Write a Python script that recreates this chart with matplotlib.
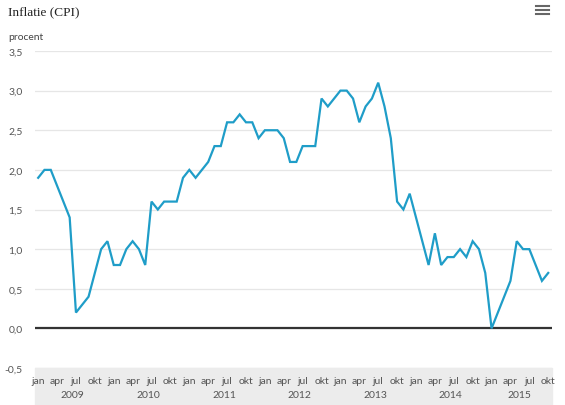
import matplotlib
matplotlib.use("Agg")
import matplotlib.pyplot as plt
import numpy as np
from matplotlib.patches import Rectangle
from matplotlib.lines import Line2D

# CPI, jaar-op-jaar mutatie, jan 2009 t/m okt 2015
cpi_2009 = [1.9, 2.0, 2.0, 1.8, 1.6, 1.4, 0.2, 0.3, 0.4, 0.7, 1.0, 1.1]
cpi_2010 = [0.8, 0.8, 1.0, 1.1, 1.0, 0.8, 1.6, 1.5, 1.6, 1.6, 1.6, 1.9]
cpi_2011 = [2.0, 1.9, 2.0, 2.1, 2.3, 2.3, 2.6, 2.6, 2.7, 2.6, 2.6, 2.4]
cpi_2012 = [2.5, 2.5, 2.5, 2.4, 2.1, 2.1, 2.3, 2.3, 2.3, 2.9, 2.8, 2.9]
cpi_2013 = [3.0, 3.0, 2.9, 2.6, 2.8, 2.9, 3.1, 2.8, 2.4, 1.6, 1.5, 1.7]
cpi_2014 = [1.4, 1.1, 0.8, 1.2, 0.8, 0.9, 0.9, 1.0, 0.9, 1.1, 1.0, 0.7]
cpi_2015 = [0.0, 0.2, 0.4, 0.6, 1.1, 1.0, 1.0, 0.8, 0.6, 0.7]

years = ["2009", "2010", "2011", "2012", "2013", "2014", "2015"]
month_labels = ["jan", "apr", "jul", "okt"]
y_ticks = [-0.5, 0.0, 0.5, 1.0, 1.5, 2.0, 2.5, 3.0, 3.5]

series = [cpi_2009, cpi_2010, cpi_2011, cpi_2012, cpi_2013, cpi_2014, cpi_2015]
values = np.concatenate(series)
x = np.arange(len(values))

fig = plt.figure(figsize=(5.65, 4.06), dpi=100)
ax = fig.add_axes([0.062, 0.091, 0.915, 0.781])

ax.plot(x, values, color="#1f9dc8", linewidth=1.6, solid_joinstyle="miter", zorder=3)
ax.axhline(0, color="#333333", linewidth=1.6, zorder=2)

ax.set_xlim(-0.5, 81.6)
ax.set_ylim(-0.5, 3.5)
ax.set_yticks(y_ticks)
ax.set_yticklabels([f"{v:.1f}".replace(".", ",") for v in y_ticks],
                   fontsize=7.5, color="#555555", family="Lato")
ax.grid(axis="y", color="#e6e6e6", linewidth=0.9)
ax.set_axisbelow(True)
for s in ax.spines.values():
    s.set_visible(False)

ticks = np.arange(0, len(values), 3)
ax.set_xticks(ticks)
ax.set_xticklabels([month_labels[(t % 12) // 3] for t in ticks],
                   fontsize=7.5, color="#555555", family="Lato")
ax.tick_params(axis="both", length=0)
ax.tick_params(axis="x", pad=5.5)
ax.tick_params(axis="y", pad=9)

# grijze band onder de as
ax.add_patch(Rectangle((0, -0.118), 1, 0.118, transform=ax.transAxes,
                       color="#ececec", clip_on=False, zorder=0))

start = 0
for yr, s in zip(years, series):
    mid = start + (len(s) - 1) / 2
    ax.text(mid, -0.082, yr, transform=ax.get_xaxis_transform(),
            ha="center", va="center", fontsize=7.5, color="#555555", family="Lato")
    start += len(s)

fig.text(0.014, 0.985, "Inflatie (CPI)", fontsize=9.5, family="Liberation Serif",
         color="#222222", ha="left", va="top")
fig.text(0.014, 0.908, "procent", fontsize=7.5, family="Lato", color="#444444",
         ha="left", va="center")

# menu-icoon
for yy in [6.7, 11, 15]:
    fig.add_artist(Line2D([536 / 565, 549 / 565], [1 - yy / 406, 1 - yy / 406],
                          color="#666666", linewidth=1.5))

fig.savefig("out.png", dpi=100)
